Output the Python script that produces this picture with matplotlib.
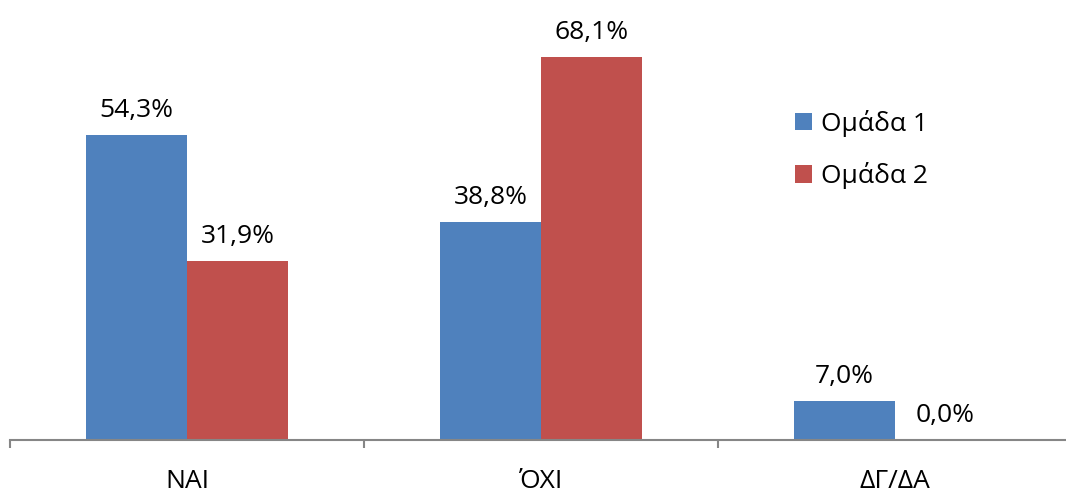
import matplotlib
matplotlib.use("Agg")
import matplotlib.pyplot as plt
from matplotlib.patches import Patch

categories = ["ΝΑΙ", "ΌΧΙ", "ΔΓ/ΔΑ"]
series_names = ["Ομάδα 1", "Ομάδα 2"]
group1 = [54.3, 38.8, 7.0]
group2 = [31.9, 68.1, 0.0]

colors = ["#4F81BD", "#C0504D"]
plt.rcParams['font.family'] = ['Open Sans', 'DejaVu Sans']

W, H = 1066, 494
fig = plt.figure(figsize=(W/100, H/100), dpi=100)
ax = fig.add_axes([10/W, 54/H, 1062/W, 440/H])

bw = 0.285
x = list(range(len(categories)))
for i, (vals, c) in enumerate(zip([group1, group2], colors)):
    off = (i - 0.5) * bw
    pos = [xi + off for xi in x]
    ax.bar(pos, vals, width=bw, color=c, linewidth=0)
    for p, v in zip(pos, vals):
        ax.annotate(f"{v:.1f}%".replace(".", ","), (p, v), xytext=(0, 13),
                    textcoords="offset points", ha="center", va="baseline",
                    fontsize=19, color="black")

ax.set_xlim(-0.5, 2.5)
ax.set_ylim(0, 78.3)
for s in ["top", "right", "left"]:
    ax.spines[s].set_visible(False)
ax.spines["bottom"].set_color("#868686")
ax.spines["bottom"].set_linewidth(1.5)
ax.set_yticks([])
ax.set_xticks([-0.5, 0.5, 1.5, 2.5])
ax.set_xticklabels([])
ax.tick_params(axis="x", which="major", length=6, width=1.5, color="#868686", direction="out")
ax.set_xticks(x, minor=True)
ax.set_xticklabels(categories, minor=True, fontsize=19)
ax.tick_params(axis="x", which="minor", length=0, pad=21)

handles = [Patch(facecolor=c, edgecolor="none") for c in colors]
fig.legend(handles, series_names, loc="upper left", bbox_to_anchor=(771/W, 1 - 86/H),
           frameon=False, fontsize=19, handlelength=0.65, handleheight=0.65,
           handletextpad=0.35, labelspacing=0.97)

fig.savefig("out.png", dpi=100)
